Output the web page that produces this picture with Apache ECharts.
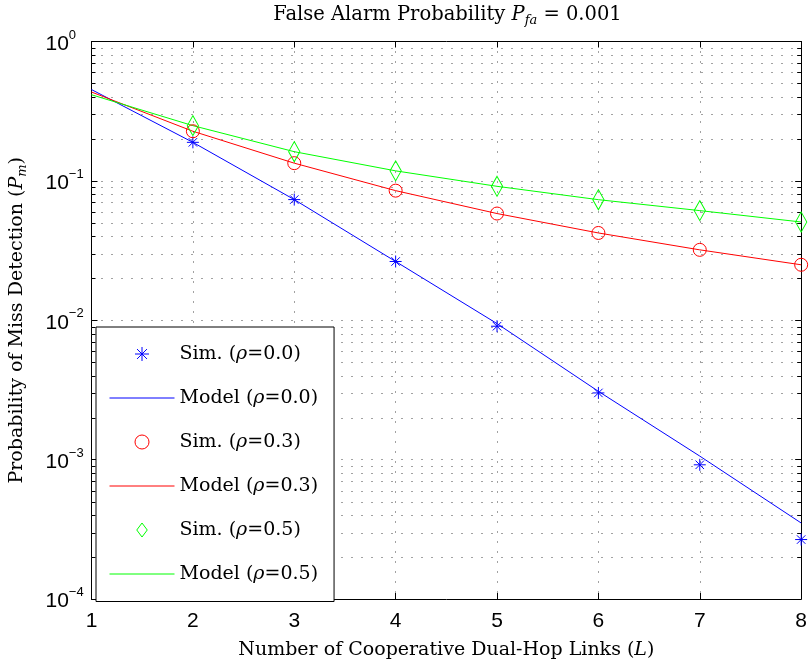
<!DOCTYPE html>
<html>
<head>
<meta charset="utf-8">
<script src="https://cdn.jsdelivr.net/npm/echarts@6/dist/echarts.min.js"></script>
<style>html,body{margin:0;background:#fff}#c{width:810px;height:665px}</style>
</head>
<body>
<div id="c"></div>
<script>
(() => {
  "use strict";
  // data
  const L = [1, 2, 3, 4, 5, 6, 7, 8];
  const L_SIM = [2, 3, 4, 5, 6, 7, 8];
  const sim00 = [0.189, 0.0734, 0.0264, 0.00906, 0.00301, 0.000918, 0.000267];
  const model00 = [0.452, 0.189, 0.0734, 0.0264, 0.00946, 0.00309, 0.00106, 0.000351];
  const sim03 = [0.227, 0.134, 0.0851, 0.0583, 0.0423, 0.032, 0.025];
  const model03 = [0.434, 0.227, 0.134, 0.0851, 0.0583, 0.0423, 0.032, 0.025];
  const sim05 = [0.249, 0.162, 0.118, 0.0914, 0.0733, 0.0612, 0.0507];
  const model05 = [0.415, 0.249, 0.162, 0.118, 0.0914, 0.0733, 0.0612, 0.0507];
  const DECADES = [-4, -3, -2, -1];   // minor grid between 10^-4 and 10^0
  const MINOR = [];
  DECADES.forEach(e => { for (let k = 2; k <= 9; k++) MINOR.push(+(k * Math.pow(10, e)).toPrecision(3)); });

  const SERIF = "DejaVu Serif", SANS = "Liberation Sans";
  const DOT = [1, 9];
  const STAR = "path://M0,-10L0,10M-10,0L10,0M-7.07,-7.07L7.07,7.07M-7.07,7.07L7.07,-7.07";
  const DIAMOND = "path://M0,-10L7.5,0L0,10L-7.5,0Z";
  const pair = (xs, ys) => xs.map((x, i) => [x, ys[i]]);
  const sup = n => n === 0 ? "0" : "\u2212" + Math.abs(n);
  const txt = (size, extra) => Object.assign({ fontFamily: SERIF, fontSize: size, fontWeight: "normal", color: "#000" }, extra || {});

  const chart = echarts.init(document.getElementById("c"), null, { renderer: "canvas" });

  const simSeries = (name, data, symbol, size, color) => ({
    name, type: "scatter", data: pair(L_SIM, data), symbol, symbolSize: size, symbolKeepAspect: true, z: 4,
    itemStyle: { color: "transparent", borderColor: color, borderWidth: 1, opacity: 1 },
  });
  const modelSeries = (name, data, color) => ({
    name, type: "line", data: pair(L, data), symbol: "none", z: 3,
    lineStyle: { color, width: 1 }, itemStyle: { color: "transparent", borderColor: "transparent", borderWidth: 0 },
  });

  const legendNames = ["Sim. (ρ=0.0)", "Model (ρ=0.0)", "Sim. (ρ=0.3)", "Model (ρ=0.3)", "Sim. (ρ=0.5)", "Model (ρ=0.5)"];

  chart.setOption({
    animation: false,
    backgroundColor: "#fff",
    title: {
      left: 447.5, top: 3, padding: 0, textAlign: "center",
      text: "{n|False Alarm Probability }{i|P}{s|fa}{n| = 0.001}",
      textStyle: {
        fontWeight: "normal",
        rich: {
          n: txt(19.5, { lineHeight: 24 }),
          i: txt(19.5, { fontStyle: "italic", lineHeight: 24 }),
          s: txt(13, { fontStyle: "italic", verticalAlign: "bottom", lineHeight: 24 }),
        },
      },
    },
    grid: { left: 89.5, right: 4.5, top: 41.5, bottom: 61.5, containLabel: false },
    legend: {
      orient: "vertical", left: 96, top: 327, padding: [17.5, 16, 18, 13],
      itemWidth: 65, itemHeight: 14, itemGap: 25, itemTextGap: 7,
      backgroundColor: "#fff", borderColor: "#000", borderWidth: 1,
      itemStyle: { borderWidth: 1 }, lineStyle: { width: 1 },
      data: legendNames, selectedMode: false,
      formatter: n => n.replace("ρ", "{i|ρ}"),
      textStyle: Object.assign(txt(19), { rich: { i: txt(19, { fontStyle: "italic" }) } }),
    },
    xAxis: [{
      type: "value", min: 1, max: 8, interval: 1,
      name: "{n|Number of Cooperative Dual-Hop Links (}{i|L}{n|)}", nameLocation: "middle", nameGap: 42,
      nameTextStyle: Object.assign(txt(19), { rich: { n: txt(19), i: txt(19, { fontStyle: "italic" }) } }),
      axisLine: { lineStyle: { color: "#000", width: 1 } },
      axisTick: { inside: true, length: 6, lineStyle: { color: "#000" } },
      axisLabel: { fontFamily: SANS, fontSize: 21, color: "#000", margin: 12 },
      splitLine: { show: true, lineStyle: { color: "#444", type: DOT, width: 1 } },
    }, {
      type: "value", position: "top", min: 1, max: 8, interval: 1,
      axisLine: { lineStyle: { color: "#000", width: 1 } },
      axisTick: { inside: true, length: 6, lineStyle: { color: "#000" } },
      axisLabel: { show: false }, splitLine: { show: false },
    }],
    yAxis: [{
      type: "log", logBase: 10, min: 1e-4, max: 1,
      name: "Probability of Miss Detection ({i|P}{s|m})", nameLocation: "middle", nameGap: 62,
      nameTextStyle: Object.assign(txt(19), {
        rich: {
          i: txt(19, { fontStyle: "italic" }),
          s: txt(13, { fontStyle: "italic", verticalAlign: "bottom", lineHeight: 24 }),
        },
      }),
      axisLine: { lineStyle: { color: "#000", width: 1 } },
      axisTick: { inside: true, length: 6, lineStyle: { color: "#000" } },
      axisLabel: {
        margin: 46, align: "left", color: "#000",
        formatter: v => "{b|10}{p|" + sup(Math.round(Math.log10(v))) + "}",
        rich: {
          b: { fontFamily: SANS, fontSize: 21, color: "#000", lineHeight: 26, verticalAlign: "bottom" },
          p: { fontFamily: SANS, fontSize: 13, color: "#000", lineHeight: 14, verticalAlign: "top" },
        },
      },
      splitLine: { show: true, lineStyle: { color: "#444", type: DOT, width: 1 } },
    }, {
      type: "log", logBase: 10, min: 1e-4, max: 1, position: "right",
      axisLine: { lineStyle: { color: "#000", width: 1 } },
      axisTick: { inside: true, length: 6, lineStyle: { color: "#000" } },
      axisLabel: { show: false }, splitLine: { show: false },
    }],
    series: [
      {
        // minor log grid + minor ticks on both sides
        type: "custom", silent: true, z: 1, clip: false,
        data: MINOR.map(v => [1, v]),
        renderItem: (params, api) => {
          const v = api.value(1);
          const a = api.coord([1, v]), b = api.coord([8, v]);
          const y = Math.round(a[1]) + 0.5;
          return {
            type: "group", children: [
              { type: "line", shape: { x1: a[0], y1: y, x2: b[0], y2: y }, style: { stroke: "#444", lineWidth: 1, lineDash: DOT } },
              { type: "line", shape: { x1: a[0], y1: y, x2: a[0] + 4, y2: y }, style: { stroke: "#000", lineWidth: 1 } },
              { type: "line", shape: { x1: b[0] - 4, y1: y, x2: b[0], y2: y }, style: { stroke: "#000", lineWidth: 1 } },
            ],
          };
        },
      },
      simSeries(legendNames[0], sim00, STAR, 12, "#0000ff"),
      modelSeries(legendNames[1], model00, "#0000ff"),
      simSeries(legendNames[2], sim03, "circle", 13, "#ff0000"),
      modelSeries(legendNames[3], model03, "#ff0000"),
      simSeries(legendNames[4], sim05, DIAMOND, [15, 20], "#00ff00"),
      modelSeries(legendNames[5], model05, "#00ff00"),
    ],
  });
})();
</script>
</body>
</html>
